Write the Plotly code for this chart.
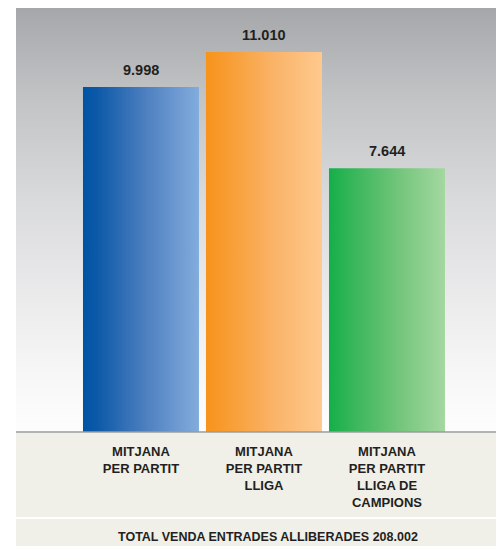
import plotly.graph_objects as go

categories = ["MITJANA<br>PER PARTIT", "MITJANA<br>PER PARTIT<br>LLIGA", "MITJANA<br>PER PARTIT<br>LLIGA DE<br>CAMPIONS"]
values = [9998, 11010, 7644]
value_labels = ["9.998", "11.010", "7.644"]
total_label = "TOTAL VENDA ENTRADES ALLIBERADES 208.002"

bar_scales = [
    [[0, "#0054a4"], [0.12, "#0c59a8"], [0.55, "#4f80c0"], [1, "#82acdd"]],
    [[0, "#f7931c"], [0.15, "#f79b2e"], [0.6, "#fab46a"], [1, "#fec98e"]],
    [[0, "#14af4a"], [0.15, "#2fb455"], [0.6, "#73c57b"], [1, "#a4d8a1"]],
]
base_colors = ["#0054a4", "#f7931c", "#14af4a"]

x_idx = list(range(len(values)))
bar_w = 0.943
y_max = 12288
x_range = [-1.016, 2.935]

fig = go.Figure()

# background gradient of the plot area
fig.add_trace(go.Scatter(
    x=[x_range[0], x_range[1], x_range[1], x_range[0], x_range[0]],
    y=[0, 0, y_max, y_max, 0],
    mode="lines", line=dict(width=0), fill="toself",
    fillgradient=dict(type="vertical", start=0, stop=y_max,
                      colorscale=[[0, "#fdfdfd"], [0.1, "#f9f9f9"], [0.3, "#ececed"],
                                  [0.55, "#d9dadc"], [0.8, "#c0c2c4"], [1, "#a5a7aa"]]),
    hoverinfo="skip", showlegend=False,
))

fig.add_trace(go.Bar(
    x=x_idx, y=values, width=bar_w,
    marker=dict(color=base_colors, line=dict(width=0)),
    showlegend=False,
))

# gradient overlay for each bar
for i, v in enumerate(values):
    x0, x1 = i - bar_w / 2, i + bar_w / 2
    fig.add_trace(go.Scatter(
        x=[x0, x1, x1, x0, x0], y=[0, 0, v, v, 0],
        mode="lines", line=dict(width=0), fill="toself",
        fillgradient=dict(type="horizontal", start=x0, stop=x1, colorscale=bar_scales[i]),
        hoverinfo="skip", showlegend=False,
    ))

for i, v in enumerate(values):
    fig.add_annotation(x=i, y=v, text=value_labels[i], showarrow=False,
                       yanchor="bottom", yshift=7,
                       font=dict(family="Liberation Sans", size=14.5, color="#231f20", weight="bold"))

# label bands
fig.add_shape(type="rect", xref="paper", yref="paper", x0=0, x1=1, y0=-0.2005, y1=-0.0024,
              fillcolor="#f0efe8", line=dict(width=0), layer="below")
fig.add_shape(type="rect", xref="paper", yref="paper", x0=0, x1=1, y0=-0.27, y1=-0.2052,
              fillcolor="#f0efe8", line=dict(width=0), layer="below")
fig.add_shape(type="line", xref="paper", yref="paper", x0=0, x1=1, y0=0, y1=0,
              line=dict(color="#999a9c", width=1.5))

fig.add_annotation(xref="paper", yref="paper", x=0.5175, y=-0.2469, text=total_label,
                   showarrow=False, yanchor="middle",
                   font=dict(family="Liberation Sans", size=12.5, color="#231f20", weight="bold"))

fig.update_layout(
    width=496, height=538, autosize=False,
    margin=dict(l=8, r=2, t=0, b=114),
    paper_bgcolor="white", plot_bgcolor="white",
    showlegend=False,
    xaxis=dict(range=x_range, tickvals=x_idx, ticktext=categories, showgrid=False,
               zeroline=False, showline=False, ticks="", ticklabelstandoff=10,
               tickfont=dict(family="Liberation Sans", size=13, color="#231f20", weight="bold"),
               fixedrange=True),
    yaxis=dict(range=[0, y_max], showgrid=False, zeroline=False, showline=False,
               showticklabels=False, ticks="", fixedrange=True),
)

fig.write_html("out.html", config={"responsive": False})
